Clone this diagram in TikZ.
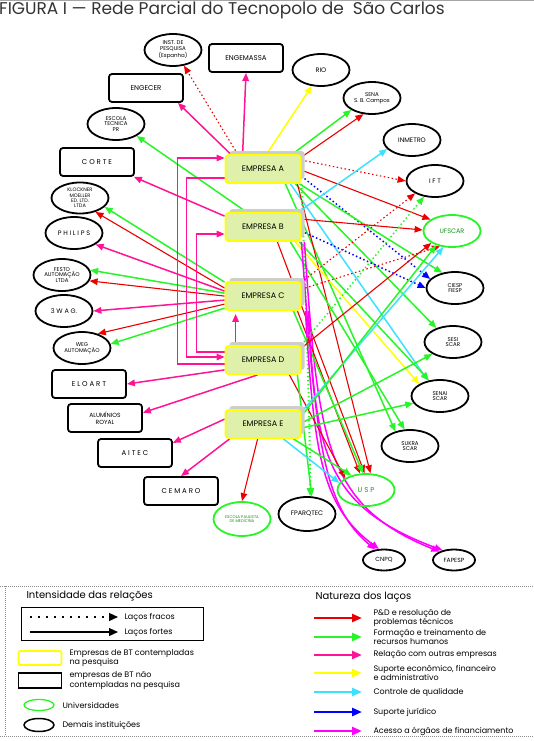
\documentclass[tikz,border=0pt]{standalone}
\usepackage{fontspec}
\setmainfont{Poppins}
\usetikzlibrary{arrows.meta,shapes.geometric,shadows}
\pgfdeclarelayer{bg}
\pgfsetlayers{bg,main}
\definecolor{cR}{RGB}{235,0,0}
\definecolor{cG}{RGB}{40,245,40}
\definecolor{cP}{RGB}{255,20,150}
\definecolor{cY}{RGB}{255,255,0}
\definecolor{cC}{RGB}{60,225,255}
\definecolor{cB}{RGB}{0,0,255}
\definecolor{cM}{RGB}{255,0,255}
\definecolor{empfill}{RGB}{222,240,170}
\definecolor{shad}{RGB}{205,205,205}
\definecolor{unitext}{RGB}{20,150,20}
\newcommand\fsz[2]{\fontsize{#1}{#2}\selectfont}
\begin{document}
\begin{tikzpicture}[x=1pt,y=-1pt,
 emp/.style={draw=cY,line width=1.8pt,rounded corners=3pt,fill=empfill,minimum width=75pt,minimum height=28pt,inner sep=0pt,font=\fsz{8}{9},
   drop shadow={shadow xshift=4pt,shadow yshift=4pt,fill=shad,opacity=1}},
 rbox/.style={draw,line width=1.8pt,rounded corners=3pt,minimum width=74pt,minimum height=28pt,inner sep=0pt,align=center,font=\fsz{7}{7.5}},
 oval/.style={ellipse,draw,line width=1.8pt,minimum width=57pt,minimum height=32pt,inner sep=0pt,align=center,font=\fsz{6.5}{7}},
 small/.style={font=\fsz{5.5}{5.8}},
 uni/.style={oval,draw=cG,text=unitext},
 lk/.style={line width=1.5pt,-{Triangle[length=8pt,width=6.5pt]}},
 lR/.style={lk,draw=cR,line width=1.1pt},
 lG/.style={lk,draw=cG},
 lP/.style={lk,draw=cP},
 lY/.style={lk,draw=cY},
 lC/.style={lk,draw=cC},
 lB/.style={lk,draw=cB},
 lM/.style={lk,draw=cM},
 weak/.style={dash pattern=on 1.5pt off 2.5pt},
 lgtxt/.style={anchor=west,align=left,font=\fsz{8}{7.5}},
 lgarr/.style={line width=2.5pt,-{Triangle[length=10pt,width=8pt]}}
]
\useasboundingbox (0,0) rectangle (534,741);
\draw[black!35,line width=1pt] (0,0.6) -- (534,0.6);
\node[anchor=west,font=\fsz{17}{18},text=black!80,inner sep=0pt] (title) at (-1,10) {FIGURA I — Rede Parcial do Tecnopolo de\ \ São Carlos};

% empresas
\node[emp] (A) at (263,169) {EMPRESA A};
\node[emp] (B) at (263,227) {EMPRESA B};
\node[emp] (C) at (263,296) {EMPRESA C};
\node[emp] (D) at (263,360) {EMPRESA D};
\node[emp] (E) at (263,424) {EMPRESA E};

% other nodes
\node[oval,small] (inst) at (173,50) {INST. DE\\PESQUISA\\(Espanha)};
\node[rbox] (engem) at (246,58) {ENGEMASSA};
\node[oval] (rio) at (321,70) {RIO};
\node[oval,small] (sena) at (372,98) {SENA\\S. B. Campos};
\node[rbox] (engecer) at (146,88) {ENGECER};
\node[oval,small] (escola) at (116,124) {ESCOLA\\TECNICA\\PR};
\node[oval] (inmetro) at (412,140) {INMETRO};
\node[rbox] (corte) at (97,162) {C O R T E};
\node[oval] (ift) at (435,181) {I F T};
\node[oval,font=\fsz{5}{5.3},minimum height=31pt] (klock) at (80,198) {KLOCKNER\\MOELLER\\ED. LTD.\\LTDA};
\node[uni] (ufscar) at (452,231) {UFSCAR};
\node[oval] (philips) at (74,233) {P H I L I P S};
\node[oval,small] (festo) at (62,275) {FESTO\\AUTOMAÇÃO\\LTDA};
\node[oval,small] (ciesp) at (455,288) {CIESP\\FIESP};
\node[oval] (wag) at (64,311) {3 W A G.};
\node[oval,small] (weg) at (82,348) {WEG\\AUTOMAÇÃO};
\node[oval,small] (sesi) at (453,342) {SESI\\SCAR};
\node[rbox] (eloart) at (89,384) {E L O A R T};
\node[oval,small] (senai) at (440,396) {SENAI\\SCAR};
\node[rbox,font=\fsz{6}{6.5}] (alum) at (105,418) {ALUMÍNIOS\\ROYAL};
\node[rbox] (aitec) at (135,453) {A I T E C};
\node[oval,small] (sukra) at (410,446) {SUKRA\\SCAR};
\node[rbox] (cemaro) at (181,491) {C E M A R O};
\node[uni,font=\fsz{4}{4.4},minimum height=34pt] (epm) at (242,519) {ESCOLA PAULISTA\\DE MEDICINA};
\node[oval,minimum height=34pt] (fparq) at (307,514) {FPARQTEC};
\node[uni,font=\fsz{7}{7.5}] (usp) at (366,490) {U S P};
\node[oval,minimum width=42pt,minimum height=21pt,font=\fsz{6}{6.5}] (cnpq) at (384,560) {CNPQ};
\node[oval,minimum width=42pt,minimum height=21pt,font=\fsz{6}{6.5}] (fapesp) at (454,560) {FAPESP};

\begin{pgfonlayer}{bg}
% A
\draw[lR,weak] ([xshift=13pt]A.north west) -- (inst.-55);
\draw[lP] ([xshift=18pt]A.north west) -- (engem.south);
\draw[lY] ([xshift=42pt]A.north west) -- (rio.-120);
\draw[lG] ([xshift=-9pt]A.north east) -- (sena.-150);
\draw[lR] ([yshift=-3pt]A.north east) -- (sena.-118);
\draw[lP] ([xshift=6pt]A.north west) -- (engecer.-25);
\draw[lR,weak] ([yshift=-6pt]A.north east) -- (ift.west);
\draw[lR] ([yshift=-16pt]A.north east) -- (ufscar.152);
\draw[lB,weak] ([yshift=-22pt]A.north east) -- (ciesp.160);
\draw[lG] ([xshift=-2pt]A.south east) -- (ciesp.130);
\draw[lG] ([xshift=-6pt]A.south east) -- (sesi.140);
\draw[lC] ([xshift=-11pt]A.south east) -- (senai.128);
\draw[lG] ([xshift=-16pt]A.south east) -- (sukra.135);
\draw[lR] ([xshift=-4pt]A.south east) -- (usp.75);
\draw[lG,weak,line width=2pt] (A.south east) .. controls (306,300) and (310,420) .. (fparq.80);
% B
\draw[lG] ([xshift=22pt]B.north west) -- (escola.-30);
\draw[lP] ([yshift=-4pt]B.north west) -- (corte.-22);
\draw[lC] ([xshift=-3pt]B.north east) -- (inmetro.-160);
\draw[lR] ([yshift=-7pt]B.north east) -- (ufscar.178);
\draw[lB,weak] ([yshift=-19pt]B.north east) -- (ciesp.west);
\draw[lY] ([xshift=-6pt]B.south east) -- (senai.150);
\draw[lG] ([xshift=-2pt]B.south east) -- (senai.125);
\draw[lG] ([xshift=-11pt]B.south east) -- (sukra.108);
\draw[lR] ([xshift=-24pt]B.south east) -- (usp.95);
\draw[lM] (B.south east) .. controls (316,440) and (322,505) .. (cnpq.130);
\draw[lM] ([xshift=3pt]B.south east) .. controls (318,440) and (324,505) .. (fapesp.150);
% C
\draw[lG] ([yshift=-1pt]C.north west) -- (klock.-20);
\draw[lR] ([yshift=-7pt]C.north west) -- (klock.-42);
\draw[lP] ([yshift=-10pt]C.north west) -- (philips.-28);
\draw[lG] ([yshift=-12pt]C.north west) -- (festo.10);
\draw[lR] ([yshift=-15pt]C.north west) -- (festo.-12);
\draw[lP] ([yshift=-19pt]C.north west) -- (wag.east);
\draw[lR] ([yshift=-23pt]C.north west) -- (weg.42);
\draw[lG] ([yshift=-27pt]C.north west) -- (weg.8);
\draw[lR,weak] ([yshift=-1pt]C.north east) -- (ift.-148);
\draw[lR,weak] ([yshift=-8pt]C.north east) -- (ufscar.-128);
\draw[lR] ([xshift=-4pt]C.south east) -- (usp.110);
\draw[lG] ([xshift=-8pt]C.south east) -- (usp.100);
\draw[lM] ([xshift=4pt]C.south east) .. controls (314,450) and (320,505) .. (cnpq.115);
\draw[lM] ([xshift=7pt]C.south east) .. controls (316,450) and (322,505) .. (fapesp.140);
% D
\draw[lP] ([yshift=5pt]D.south west) -- (eloart.east);
\draw[lP] ([xshift=33pt]D.south west) -- (alum.8);
\draw[lP] ([xshift=11pt]D.north west) -- ([xshift=11pt,yshift=-3pt]C.south west);
\draw[lR] ([yshift=-3pt]D.north east) -- (ufscar.-150);
\draw[lG,weak] (D.north east) -- (ift.-125);
\draw[lR] ([xshift=-12pt]D.south east) -- (usp.150);
\draw[lG] ([xshift=-4pt]D.south east) -- (fparq.75);
\draw[lP] ([yshift=-4pt]D.west) -- ++(-47,0) |- ([yshift=11pt]A.west);
\draw[lP] ([yshift=-9pt]A.west) -- ++(-38,0) |- ([yshift=3pt]D.west);
\draw[lP] ([yshift=8pt]D.west) -- ++(-28,0) |- ([yshift=-7pt]B.west);
% E
\draw[lP] ([yshift=-10pt]E.north west) -- (aitec.15);
\draw[lP] ([xshift=5pt]E.south west) -- (cemaro.north);
\draw[lR] ([xshift=33pt]E.south west) -- (epm.north);
\draw[lG] ([yshift=-14pt]E.north east) -- (sesi.-150);
\draw[lG] ([yshift=-19pt]E.north east) -- (senai.-165);
\draw[lC] ([yshift=-3pt]E.north east) -- (ufscar.-118);
\draw[lG] ([yshift=-7pt]E.north east) -- (ufscar.-138);
\draw[lC] ([xshift=-18pt]E.south east) -- (usp.165);
\draw[lG] ([xshift=-8pt]E.south east) -- (usp.135);
\end{pgfonlayer}

% legend frame
\draw[black!45,line width=0.8pt,dash pattern=on 1pt off 1pt] (0,586) -- (534,586);
\draw[black!45,line width=0.8pt,dash pattern=on 1pt off 1pt] (0,736) -- (534,736);
\draw[black!45,line width=0.8pt,dash pattern=on 1pt off 1pt] (5,586) -- (5,736);

\node[anchor=west,font=\fsz{10}{11}] (lgint) at (23,596) {Intensidade das relações};
\node[draw,line width=0.6pt,minimum width=182pt,minimum height=33pt,inner sep=0pt] (lgbox) at (112,623.5) {};
\coordinate (w1) at (30,617); \coordinate (w2) at (118,617);
\coordinate (s1) at (30,632); \coordinate (s2) at (118,632);
\draw[line width=1.2pt,dash pattern=on 2pt off 6pt,-{Triangle[length=9pt,width=8pt]}] (w1) -- (w2);
\draw[line width=1.2pt,-{Triangle[length=9pt,width=8pt]}] (s1) -- (s2);
\node[lgtxt] (lgw) at (121,617) {Laços fracos};
\node[lgtxt] (lgs) at (121,632) {Laços fortes};
\node[draw=cY,line width=1.8pt,rounded corners=2pt,minimum width=43pt,minimum height=14pt] (lgemp) at (40,658) {};
\node[lgtxt] (lgempt) at (66,658) {Empresas de BT contempladas\\na pesquisa};
\node[draw,line width=1.8pt,minimum width=43pt,minimum height=15pt] (lgbt) at (40,680.5) {};
\node[lgtxt] (lgbtt) at (66,680.5) {empresas de BT não\\contempladas na pesquisa};
\node[ellipse,draw=cG,line width=1.3pt,minimum width=30pt,minimum height=11pt,inner sep=0pt] (lguni) at (39,705) {};
\node[lgtxt] (lgunit) at (59,705) {Universidades};
\node[ellipse,draw,line width=1.5pt,minimum width=30pt,minimum height=13pt,inner sep=0pt] (lgdem) at (39,725) {};
\node[lgtxt] (lgdemt) at (59,725) {Demais instituições};

\node[anchor=west,font=\fsz{10}{11}] (lgnat) at (312,597) {Natureza dos laços};
\foreach \y/\c/\t [count=\i] in {
  618/cR/{P\&D e resolução de\\problemas técnicos},
  637/cG/{Formação e treinamento de\\recursos humanos},
  655/cP/{Relação com outras empresas},
  673/cY/{Suporte econômico, financeiro\\e administrativo},
  692/cC/{Controle de qualidade},
  712/cB/{Suporte jurídico},
  731/cM/{Acesso a órgãos de financiamento}}{
  \coordinate (na\i) at (314,\y);
  \coordinate (nb\i) at (362,\y);
  \draw[lgarr,draw=\c] (na\i) -- (nb\i);
  \node[lgtxt] (nt\i) at (370,\y) {\t};
}
\end{tikzpicture}
\end{document}
